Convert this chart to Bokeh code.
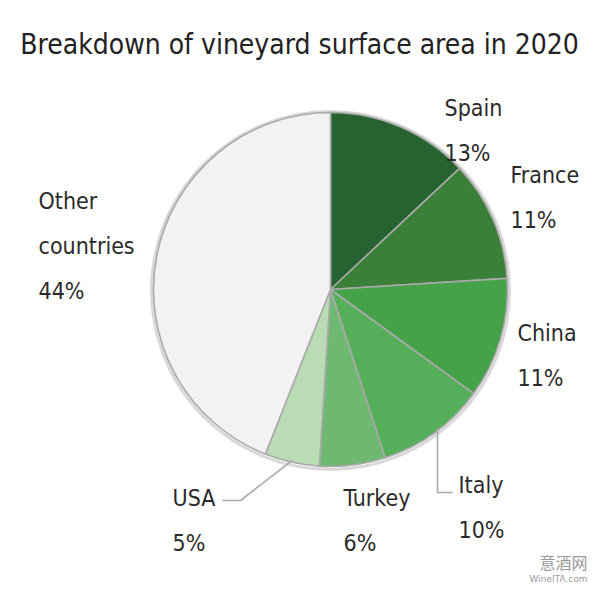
import math
from bokeh.plotting import figure
from bokeh.models import Range1d, ColumnDataSource
from bokeh.core.properties import value
from bokeh.embed import file_html
from bokeh.resources import INLINE

# ---- data ----
countries = ["Spain", "France", "China", "Italy", "Turkey", "USA", "Other countries"]
shares = [13, 11, 11, 10, 6, 5, 44]
colors = ["#266330", "#3b8039", "#45a249", "#55af5a", "#6eb871", "#badcb5", "#f2f2f2"]
title_text = "Breakdown of vineyard surface area in 2020"

# ---- layout (page pixels) ----
W, H = 600, 593
FONT = "DejaVu Sans Condensed"
CX, CY, R = 330, 289, 177


def X(px):
    return px


def Y(py):
    return H - py


p = figure(width=W, height=H, output_backend="svg", toolbar_location=None,
           x_range=Range1d(0, W), y_range=Range1d(0, H), min_border=0)
p.axis.visible = False
p.grid.visible = False
p.outline_line_color = None
p.background_fill_color = "white"

# pie angles from data (clockwise from 12 o'clock)
total = sum(shares)
starts, ends, mids = [], [], []
cum = 0
for s in shares:
    a0 = math.pi / 2 - 2 * math.pi * cum / total
    cum += s
    a1 = math.pi / 2 - 2 * math.pi * cum / total
    starts.append(a0)
    ends.append(a1)
    mids.append((a0 + a1) / 2)

# faint shadow ring
p.circle(x=[X(CX)], y=[Y(CY) - 1], radius=R + 2, fill_color=None,
         line_color="#d8d8d8", line_width=3)

src = ColumnDataSource(dict(start=starts, end=ends, color=colors))
p.wedge(x=X(CX), y=Y(CY), radius=R, start_angle="start", end_angle="end",
        direction="clock", fill_color="color", line_color="#a9a9a9",
        line_width=1.6, source=src)

# leader lines for USA and Italy
def edge(i, r=R):
    return X(CX) + r * math.cos(mids[i]), Y(CY) + r * math.sin(mids[i])

iu = countries.index("USA")
ex, ey = edge(iu, R - 2)
p.line(x=[ex, X(240), X(222)], y=[ey, Y(500), Y(500)], line_color="#a9a9a9", line_width=1.6)

ii = countries.index("Italy")
ex = X(437)
ey = Y(CY) - math.sqrt(R ** 2 - (ex - X(CX)) ** 2)
p.line(x=[ex, ex, X(452)], y=[ey + 2, Y(492), Y(492)], line_color="#a9a9a9", line_width=1.6)

# labels
label_pos = {
    "Spain": (444, 107),
    "France": (510, 174),
    "China": (517, 332),
    "Italy": (458, 484),
    "Turkey": (343, 497),
    "USA": (172, 497),
    "Other countries": (38, 200),
}
GAP = 45
lx, ly, lt = [], [], []
for name, share in zip(countries, shares):
    x0, y0 = label_pos[name]
    lines = name.split(" ") + [f"{share}%"]
    for k, t in enumerate(lines):
        lx.append(X(x0))
        ly.append(Y(y0 + k * GAP))
        lt.append(t)
p.text(x=lx, y=ly, text=lt, text_font=value(FONT), text_font_size="23px",
       text_color="#2b2b2b", text_align="left", text_baseline="middle")

# title
p.text(x=[X(299)], y=[Y(44)], text=[title_text], text_font=value(FONT),
       text_font_size="28px", text_color="#222222", text_align="center",
       text_baseline="middle")

# watermark
p.text(x=[X(587)], y=[Y(561)], text=["意酒网"], text_font=value("Noto Sans CJK SC"),
       text_font_size="16px", text_color="#9a9a9a", text_align="right", text_baseline="middle")
p.text(x=[X(587)], y=[Y(578)], text=["WineITA.com"], text_font=value("DejaVu Sans"),
       text_font_size="9px", text_color="#9a9a9a", text_align="right", text_baseline="middle")

open("out.html", "w").write(file_html(p, INLINE))
